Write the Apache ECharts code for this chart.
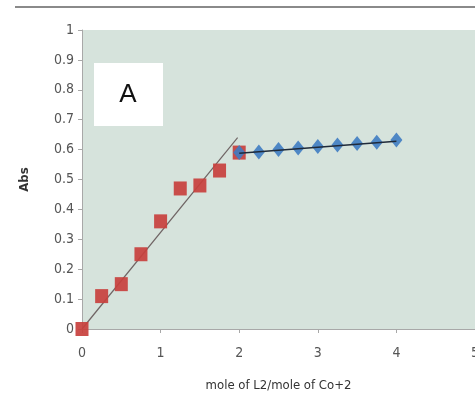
<!DOCTYPE html>
<html><head><meta charset="utf-8">
<script src="https://cdn.jsdelivr.net/npm/echarts@6/dist/echarts.min.js"></script>
<style>html,body{margin:0;padding:0;background:#fff}#c{width:475px;height:401px}</style>
</head><body><div id="c"></div>
<script>
var redX = [0, 0.25, 0.5, 0.75, 1.0, 1.25, 1.5, 1.75, 2.0];
var redY = [0, 0.11, 0.15, 0.25, 0.36, 0.47, 0.48, 0.53, 0.59];
var blueX = [2.0, 2.25, 2.5, 2.75, 3.0, 3.25, 3.5, 3.75, 4.0];
var blueY = [0.59, 0.592, 0.600, 0.605, 0.610, 0.615, 0.620, 0.625, 0.632];
var redFit = [[0, 0], [1.98, 0.64]];
var blueFit = [[2.0, 0.588], [4.0, 0.628]];
var xTicks = [0, 1, 2, 3, 4, 5];
var yTicks = [0, 0.1, 0.2, 0.3, 0.4, 0.5, 0.6, 0.7, 0.8, 0.9, 1];
var xTitle = 'mole of L2/mole of Co+2';
var yTitle = 'Abs';
var panelLabel = 'A';

function pts(xs, ys){ return xs.map(function(x,i){return [x, ys[i]];}); }

var font = '"DejaVu Sans Condensed", "Liberation Sans Narrow", "Liberation Sans", sans-serif';
var chart = echarts.init(document.getElementById('c'));
chart.setOption({
  animation: false,
  backgroundColor: '#ffffff',
  grid: { left: 82, right: 0, top: 30, bottom: 72, show: true, backgroundColor: '#d6e3dc', borderWidth: 0,
          containLabel: false, outerBoundsMode: 'none' },
  xAxis: {
    type: 'value', min: 0, max: 5, interval: 1,
    name: xTitle, nameLocation: 'middle', nameGap: 50,
    nameTextStyle: { fontFamily: font, fontSize: 13, color: '#333' },
    axisLine: { show: true, lineStyle: { color: '#a8a8a8', width: 1 } },
    axisTick: { show: true, length: 4, lineStyle: { color: '#a8a8a8' } },
    axisLabel: { fontFamily: font, fontSize: 14, color: '#555', margin: 17,
      formatter: function(v){ return xTicks.indexOf(v) >= 0 ? String(v) : ''; } },
    splitLine: { show: false }
  },
  yAxis: {
    type: 'value', min: 0, max: 1, interval: 0.1,
    name: yTitle, nameLocation: 'middle', nameGap: 51, nameRotate: 90,
    nameTextStyle: { fontFamily: font, fontSize: 13, fontWeight: 'bold', color: '#333' },
    axisLine: { show: true, lineStyle: { color: '#a8a8a8', width: 1 } },
    axisTick: { show: true, length: 4, lineStyle: { color: '#a8a8a8' } },
    axisLabel: { fontFamily: font, fontSize: 14, color: '#555', margin: 8,
      formatter: function(v){ var r = Math.round(v*10)/10; return yTicks.indexOf(r) >= 0 ? String(r) : ''; } },
    splitLine: { show: false }
  },
  graphic: [
    { type: 'line', shape: { x1: 15, y1: 7, x2: 475, y2: 7 }, style: { stroke: '#8a8a8a', lineWidth: 2 } },
    { type: 'rect', shape: { x: 94, y: 63, width: 69, height: 63 }, style: { fill: '#ffffff' }, z: 10 },
    { type: 'text', x: 128, y: 95, z: 11, style: { text: panelLabel, font: '26px "Liberation Sans", Arial, sans-serif', fill: '#111', align: 'center', verticalAlign: 'middle' } }
  ],
  series: [
    { type: 'line', data: redFit, symbol: 'none', lineStyle: { color: '#6f6464', width: 1.2 }, z: 3 },
    { type: 'scatter', data: pts(redX, redY), symbol: 'rect', symbolSize: [13, 14],
      itemStyle: { color: '#c8403d', opacity: 0.92 }, z: 4 },
    { type: 'scatter', data: pts(blueX, blueY), symbol: 'diamond', symbolSize: [12, 15],
      itemStyle: { color: '#3f7cc2', opacity: 0.9 }, z: 5 },
    { type: 'line', data: blueFit, symbol: 'none', lineStyle: { color: '#1f2a3a', width: 1.4 }, z: 6 }
  ]
});
</script></body></html>
